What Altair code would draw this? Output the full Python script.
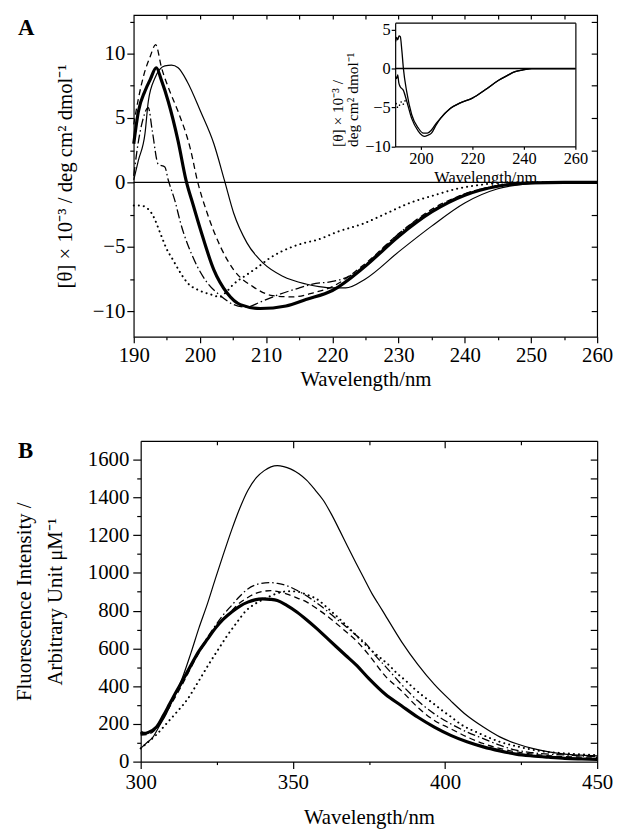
import altair as alt
import pandas as pd

FONT = "Liberation Serif"

# ---------------- Panel A (CD spectra) ----------------
a_thin_x = [190, 190.7, 191.7, 192.2, 193.2, 194.7, 195.7, 196.7, 198.1, 200.1, 202.1, 203.7, 205.1, 207.1, 209.6, 212.5, 216, 218, 220, 222, 225, 230, 235, 240, 245, 250, 255, 260]
a_thin_y = [0.2, 1.7, 3.8, 6.3, 8.1, 9.05, 9.1, 8.9, 7.8, 5.5, 3.0, 0.15, -2.4, -4.7, -6.3, -7.3, -7.9, -8.1, -8.2, -8.2, -7.5, -5.4, -3.4, -1.6, -0.5, -0.1, 0.0, 0.0]

a_thick_x = [190, 190.7, 191.7, 192.5, 193.4, 194.2, 195.2, 196.7, 197.9, 199, 200.1, 202.1, 204.1, 206.1, 209.1, 213, 216, 220, 225, 230, 235, 240, 245, 250, 255, 260]
a_thick_y = [3.0, 5.5, 7.1, 8.0, 8.9, 7.9, 6.3, 3.2, 0.15, -1.8, -3.7, -6.8, -8.6, -9.5, -9.8, -9.6, -9.1, -8.4, -6.5, -4.2, -2.3, -1.0, -0.3, -0.05, 0.0, 0.0]

a_dash_x = [190, 190.7, 191.5, 192.5, 193.3, 194.2, 195.5, 196.7, 198.6, 199.6, 201.1, 203.1, 205.1, 208, 211, 214, 217, 220, 225, 230, 235, 240, 245, 250, 260]
a_dash_y = [4.5, 6.5, 8.3, 9.8, 10.7, 8.9, 7.0, 5.5, 2.5, 0.15, -2.4, -5.0, -6.8, -8.1, -8.8, -8.9, -8.6, -8.1, -6.3, -4.0, -2.1, -0.9, -0.25, 0.0, 0.0]

a_dd_x = [190, 190.5, 191.2, 192.2, 192.8, 193.7, 194.7, 195.2, 196.2, 197.1, 199.1, 201.1, 203.1, 205.1, 207, 209.1, 212, 215, 217, 220, 222.5, 225, 227.5, 230, 235, 240, 245, 250, 260]
a_dd_y = [0.5, 2.5, 4.5, 5.8, 4.0, 1.4, 1.2, 0.2, -1.4, -3.2, -6.0, -7.8, -8.8, -9.5, -9.7, -9.3, -8.7, -8.2, -7.9, -7.7, -7.3, -6.4, -5.2, -4.0, -2.2, -0.9, -0.25, 0.0, 0.0]

a_dot_x = [190, 191, 191.7, 192.7, 194.2, 194.9, 195.9, 196.9, 198.1, 199.9, 201.6, 203, 204, 205.1, 207, 208.7, 210.5, 212.2, 214, 215.8, 217.5, 221, 224.7, 228.2, 231.7, 235.4, 238.8, 242.3, 246, 260]
a_dot_y = [-1.8, -1.8, -1.9, -2.4, -4.2, -5.1, -6.0, -6.9, -7.8, -8.4, -8.7, -8.9, -8.5, -7.9, -7.2, -6.6, -5.9, -5.4, -5.0, -4.7, -4.5, -3.8, -3.2, -2.4, -1.6, -1.0, -0.5, -0.2, 0.0, 0.0]

# inset
i_up_x = [190.2, 190.6, 191, 191.5, 192, 192.6, 193.2, 194.5, 196.4, 198.9, 201, 202.5, 204.1, 206, 207.6, 211.5, 215.3, 220, 225.1, 230.2, 233.5, 236.6, 240, 243, 260]
i_up_y = [3.5, 4.0, 3.7, 4.2, 4.1, 2.3, 0.0, -3.0, -5.9, -7.6, -8.3, -8.3, -7.9, -7.0, -6.4, -5.1, -4.4, -3.8, -2.7, -1.5, -0.9, -0.4, -0.15, 0.0, 0.0]
i_lo_x = [190.2, 190.6, 191, 191.4, 191.9, 193.2, 194.5, 196.4, 198.9, 200.5, 201.5, 202.5, 204.1, 206, 207.6, 211.5, 215.3, 220, 225.1, 230.2, 233.5, 236.6, 240, 243, 260]
i_lo_y = [-1.0, -1.3, -0.8, -1.8, -2.3, -2.8, -4.2, -6.4, -8.0, -8.6, -8.7, -8.6, -8.3, -7.2, -6.4, -5.1, -4.4, -3.8, -2.7, -1.5, -0.9, -0.4, -0.15, 0.0, 0.0]
i_dot_x = [190.4, 191, 191.7, 192.3, 193, 194]
i_dot_y = [-4.5, -5.0, -4.7, -4.3, -4.6, -4.0]

# ---------------- Panel B (fluorescence) ----------------
b_thin_x = [300, 302, 304.1, 306, 308.4, 311, 313.7, 316.5, 319.1, 322, 324.5, 327, 329.9, 332.5, 335.2, 338, 340.6, 342.8, 344.9, 347, 349.2, 352, 354.6, 357.3, 360, 362.7, 365.3, 368, 370.7, 373.4, 376, 378, 380.4, 385.7, 391.1, 396.5, 401.9, 407.2, 412.6, 418, 423.3, 428.7, 434.1, 439.4, 444.7, 450]
b_thin_y = [70, 100, 131, 185, 253, 345, 444, 575, 706, 840, 967, 1090, 1228, 1340, 1437, 1505, 1542, 1562, 1568, 1563, 1551, 1525, 1490, 1440, 1385, 1310, 1228, 1140, 1054, 970, 890, 838, 775, 636, 514, 409, 322, 244, 183, 131, 96, 70, 52, 40, 34, 30]

b_thick_x = [300, 301, 302.5, 305.2, 307.5, 309.5, 311.5, 313.7, 316.5, 319.1, 322, 324.5, 327, 329.9, 332.5, 335.2, 337.5, 340.1, 342.5, 344.9, 348, 351.3, 354.5, 357.8, 361, 364.2, 367.5, 370.7, 375, 380.4, 385.7, 391.1, 396.5, 401.9, 407.2, 412.6, 418, 423.3, 428.7, 434, 439.4, 445, 450]
b_thick_y = [157, 150, 155, 183, 245, 305, 365, 427, 510, 584, 650, 706, 752, 793, 823, 845, 857, 862, 860, 854, 828, 793, 752, 706, 658, 610, 561, 514, 440, 357, 296, 235, 183, 139, 105, 78, 57, 40, 30, 23, 17, 14, 12]

b_dd_x = [300, 302.5, 305.2, 309.5, 313.7, 319.1, 322, 324.5, 327, 329.9, 332.5, 335.2, 338, 342.2, 345, 348.1, 350.8, 353.5, 356.2, 358.9, 361.5, 364.2, 367.5, 370.7, 374, 377.5, 380.4, 385.7, 391.1, 396.5, 401.9, 407.2, 412.6, 418, 423.3, 428.7, 439.4, 450]
b_dd_y = [145, 150, 180, 300, 420, 584, 660, 720, 775, 828, 875, 915, 938, 949, 944, 932, 912, 888, 860, 828, 795, 758, 715, 671, 625, 555, 505, 409, 322, 253, 200, 157, 122, 87, 61, 47, 35, 26]

b_dash_x = [300, 302.5, 305.2, 309.5, 313.7, 319.1, 324.5, 329.9, 332.5, 335.2, 338, 340.5, 342.8, 345.5, 348.1, 351.3, 354.6, 357.8, 361, 364.2, 367.5, 371, 375, 380.4, 385.7, 391.1, 396.5, 401.9, 407.2, 412.6, 418, 423.3, 428.7, 439.4, 450]
b_dash_y = [140, 145, 175, 290, 410, 575, 705, 800, 840, 870, 893, 903, 906, 900, 888, 868, 845, 812, 775, 733, 688, 638, 565, 453, 375, 287, 218, 174, 131, 96, 70, 52, 40, 26, 23]

b_dot_x = [300, 301.9, 305, 308.9, 312, 315.4, 318.8, 322.3, 325.3, 328.2, 331.5, 334.7, 337.5, 340.6, 343.3, 346, 348.6, 351.3, 354.5, 357.8, 362, 366.4, 371.8, 375, 378.2, 381.4, 384.1, 387, 390, 393, 396, 399, 402, 405, 411.5, 418, 424.4, 430.9, 439.4, 450]
b_dot_y = [70, 96, 140, 209, 265, 331, 420, 514, 590, 662, 735, 801, 835, 862, 882, 897, 903, 901, 885, 862, 805, 740, 653, 601, 557, 514, 470, 430, 385, 345, 310, 272, 237, 200, 148, 105, 78, 57, 44, 35]

AXIS_A_X = [190, 200, 210, 220, 230, 240, 250, 260]
AXIS_A_Y = [-10, -5, 0, 5, 10]
INSET_X = [200, 220, 240, 260]
INSET_Y = [-10, -5, 0, 5]
AXIS_B_X = [300, 350, 400, 450]
AXIS_B_Y = [0, 200, 400, 600, 800, 1000, 1200, 1400, 1600]

TITLE_A_Y = "[θ] × 10⁻³ / deg cm² dmol⁻¹"
TITLE_INSET_Y = ["[θ] × 10⁻³ /", "deg cm² dmol⁻¹"]
TITLE_B_Y = ["Fluorescence Intensity /", "Arbitrary Unit μM⁻¹"]
TITLE_X = "Wavelength/nm"

WA, HA = 468, 325
WB, HB = 468, 324
LS = 21  # label size


def df(xs, ys):
    return pd.DataFrame({"x": xs, "y": ys})


def curve(xs, ys, xsc, ysc, width=1.2, dash=None, cap="butt"):
    kw = dict(color="black", strokeWidth=width, interpolate="monotone", strokeCap=cap)
    if dash is not None:
        kw["strokeDash"] = dash
    return alt.Chart(df(xs, ys)).mark_line(**kw).encode(
        x=alt.X("x:Q", scale=xsc, axis=None),
        y=alt.Y("y:Q", scale=ysc, axis=None),
    )


def axis_layer(channel, scale, other, **axis_kw):
    base = dict(grid=False, labels=False, domain=False, title=None, labelFlush=False,
                labelOverlap=False, labelFont=FONT, titleFont=FONT, labelColor="black",
                titleColor="black", titleFontWeight="normal", tickColor="black",
                tickWidth=1.2, domainColor="black", domainWidth=1.2, format="d",
                minExtent=0)
    base.update(axis_kw)
    d = pd.DataFrame({"v": [scale.domain[0]], "w": [other.domain[0]]})
    ax = alt.Axis(**base)
    if channel == "x":
        enc = dict(x=alt.X("v:Q", scale=scale, axis=ax), y=alt.Y("w:Q", scale=other, axis=None))
    else:
        enc = dict(y=alt.Y("v:Q", scale=scale, axis=ax), x=alt.X("w:Q", scale=other, axis=None))
    return alt.Chart(d).mark_point(opacity=0, size=1).encode(**enc)


def hrule(x1, x2, y, xsc, ysc, width=1.4):
    d = pd.DataFrame({"x1": [x1], "x2": [x2], "y": [y]})
    return alt.Chart(d).mark_rule(color="black", strokeWidth=width).encode(
        x=alt.X("x1:Q", scale=xsc, axis=None), x2="x2:Q",
        y=alt.Y("y:Q", scale=ysc, axis=None))


def label(text, px, py):
    d = pd.DataFrame({"t": [text], "u": [0]})
    return alt.Chart(d).mark_text(font=FONT, fontSize=23, fontWeight="bold", align="left",
                                  baseline="alphabetic", color="black").encode(
        text="t:N",
        x=alt.X("u:Q", scale=alt.Scale(domain=[0, 1], range=[px, px + 1]), axis=None),
        y=alt.Y("u:Q", scale=alt.Scale(domain=[0, 1], range=[py, py - 1]), axis=None))


# ---- Panel A ----
xa = alt.Scale(domain=[190, 260], nice=False, zero=False)
ya = alt.Scale(domain=[-12, 13], nice=False, zero=False)

ix0, ix1, iy0, iy1 = 264, 446, 132.7, 7.7
xi = alt.Scale(domain=[190, 260], nice=False, zero=False, range=[ix0, ix1])
yi = alt.Scale(domain=[-10, 5.9], nice=False, zero=False, range=[iy0, iy1])
IS = 16.5

A_layers = [
    hrule(190, 260, 0, xa, ya),
    curve(a_dot_x, a_dot_y, xa, ya, width=2.0, dash=[0.1, 5], cap="round"),
    curve(a_dd_x, a_dd_y, xa, ya, width=1.3, dash=[9, 3, 1.5, 3]),
    curve(a_dash_x, a_dash_y, xa, ya, width=1.3, dash=[6, 4]),
    curve(a_thin_x, a_thin_y, xa, ya, width=1.2),
    curve(a_thick_x, a_thick_y, xa, ya, width=3.2),
    axis_layer("x", xa, ya, orient="bottom", values=AXIS_A_X, labels=True, tickSize=6,
               labelFontSize=LS, labelPadding=2, title=TITLE_X, titleFontSize=LS,
               titlePadding=3),
    axis_layer("x", xa, ya, orient="bottom", values=[195, 205, 215, 225, 235, 245, 255], tickSize=3),
    axis_layer("y", ya, xa, orient="left", values=AXIS_A_Y, labels=True, tickSize=7,
               labelFontSize=LS, labelPadding=2,
               title=TITLE_A_Y, titleFontSize=LS, titlePadding=17),
    axis_layer("y", ya, xa, orient="left", values=[-7.5, -2.5, 2.5, 7.5, 12.5], tickSize=4),
    axis_layer("x", xa, ya, orient="top", values=list(range(195, 260, 5)), tickSize=4, offset=-4),
    axis_layer("y", ya, xa, orient="right", values=[-10, -7.5, -5, -2.5, 0, 2.5, 5, 7.5, 10, 12.5],
               tickSize=6, offset=-6),
    # inset
    hrule(190, 260, 0, xi, yi, width=1.6),
    curve(i_dot_x, i_dot_y, xi, yi, width=1.6, dash=[0.1, 3.5], cap="round"),
    curve(i_up_x, i_up_y, xi, yi, width=1.3),
    curve(i_lo_x, i_lo_y, xi, yi, width=1.3),
    axis_layer("x", xi, yi, orient="bottom", values=INSET_X, labels=True, domain=True, tickSize=3,
               offset=iy0 - HA, labelFontSize=IS, labelPadding=1,
               title=TITLE_X, titleFontSize=IS, titlePadding=3),
    axis_layer("y", yi, xi, orient="left", values=INSET_Y, labels=True, domain=True, tickSize=4,
               offset=-ix0, labelFontSize=IS, labelPadding=1,
               title=TITLE_INSET_Y[1], titleFontSize=IS - 1, titlePadding=4,
               titleAnchor="start"),
    axis_layer("y", yi, xi, orient="left", values=INSET_Y, ticks=False,
               offset=-ix0, title=TITLE_INSET_Y[0], titleFontSize=IS - 1, titlePadding=50,
               titleAnchor="start"),
    axis_layer("x", xi, yi, orient="top", values=INSET_X, domain=True, ticks=False, offset=-iy1),
    axis_layer("y", yi, xi, orient="right", values=INSET_Y, domain=True, ticks=False,
               offset=ix1 - WA),
    label("A", -117, 20),
]

panel_a = alt.layer(*A_layers).resolve_scale(x="independent", y="independent").properties(
    width=WA, height=HA)

# ---- Panel B ----
xb = alt.Scale(domain=[300, 450], nice=False, zero=False, range=[7, WB])
yb = alt.Scale(domain=[0, 1700], nice=False, zero=False)

B_layers = [
    curve(b_dot_x, b_dot_y, xb, yb, width=2.0, dash=[0.1, 5], cap="round"),
    curve(b_dd_x, b_dd_y, xb, yb, width=1.3, dash=[8, 3, 1.5, 3]),
    curve(b_dash_x, b_dash_y, xb, yb, width=1.3, dash=[6, 4]),
    curve(b_thin_x, b_thin_y, xb, yb, width=1.2),
    curve(b_thick_x, b_thick_y, xb, yb, width=3.2),
    axis_layer("x", xb, yb, orient="bottom", values=AXIS_B_X, labels=True, domain=True, tickSize=7,
               labelFontSize=LS, labelPadding=3, title=TITLE_X, titleFontSize=LS,
               titlePadding=14),
    axis_layer("x", xb, yb, orient="bottom", values=[325, 375, 425], tickSize=3),
    axis_layer("y", yb, xb, orient="left", values=AXIS_B_Y, labels=True, domain=True, tickSize=8,
               offset=-7, labelFontSize=LS, labelPadding=4,
               title=TITLE_B_Y[1], titleFontSize=LS, titlePadding=22),
    axis_layer("y", yb, xb, orient="left", values=AXIS_B_Y, ticks=False, offset=-7,
               title=TITLE_B_Y[0], titleFontSize=LS, titlePadding=107),
    axis_layer("y", yb, xb, orient="left", values=list(range(100, 1700, 200)), tickSize=4, offset=-7),
    axis_layer("x", xb, yb, orient="top", values=AXIS_B_X, domain=True, ticks=False),
    axis_layer("x", xb, yb, orient="top", values=[350, 400], tickSize=7, offset=-7),
    axis_layer("x", xb, yb, orient="top", values=[325, 375, 425], tickSize=4, offset=-4),
    axis_layer("y", yb, xb, orient="right", values=AXIS_B_Y, domain=True, ticks=False),
    axis_layer("y", yb, xb, orient="right", values=list(range(100, 1700, 100)), tickSize=7, offset=-7),
    label("B", -117, 17),
]

panel_b = alt.layer(*B_layers).resolve_scale(x="independent", y="independent").properties(
    width=WB, height=HB, view=alt.ViewBackground(stroke="transparent"))

chart = alt.vconcat(panel_a, panel_b, spacing=49).properties(
    padding={"left": 5, "top": 1, "right": 0, "bottom": 0}
).configure_view(stroke="black", strokeWidth=1.2)

chart.save("out.html", embed_options={"renderer": "svg", "actions": False})
